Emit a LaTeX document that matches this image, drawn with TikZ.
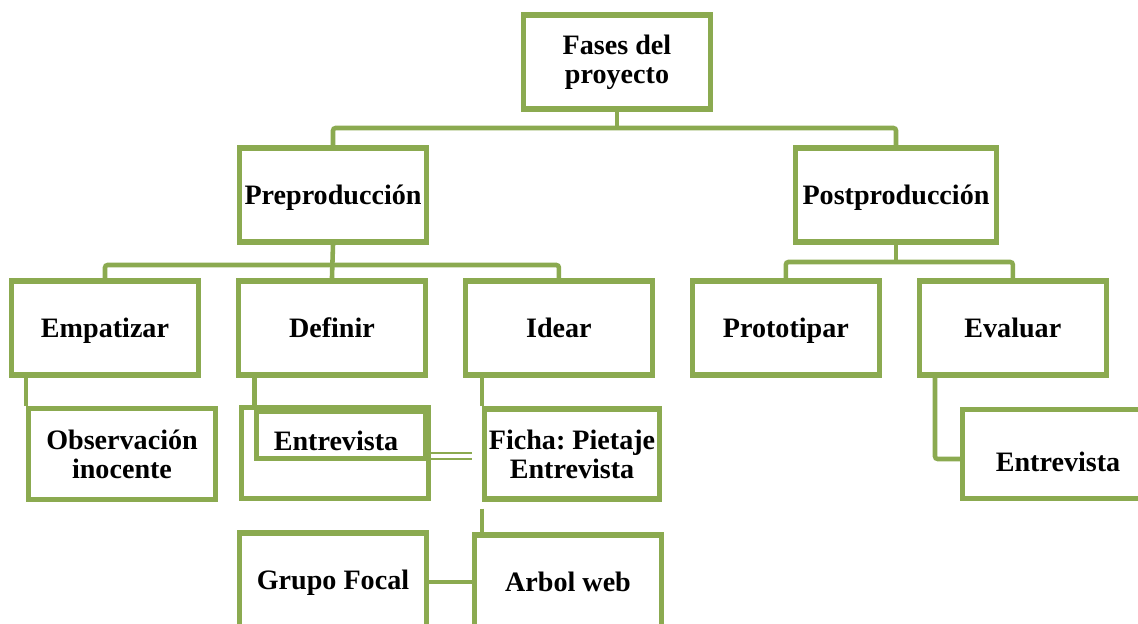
\documentclass[tikz,border=0pt]{standalone}
\usepackage{fontspec}
\setmainfont{Liberation Serif}
\usetikzlibrary{positioning}

\definecolor{fasegreen}{RGB}{139,170,80}
\frenchspacing

\begin{document}
\begin{tikzpicture}[x=0.02cm, y=-0.02cm, node distance=4.54cm,
    align=center, font=\fontsize{16}{16.5}\selectfont\bfseries]

    \tikzset{
      twobox/.style = {shape=rectangle, draw=fasegreen, line width=3pt,
                       minimum width=3.74cm, minimum height=1.88cm, inner sep=1pt},
      txt/.style    = {text height=12.5pt, text depth=2pt},
      box/.style    = {twobox, txt},
      link/.style   = {draw=fasegreen, line width=2.6pt, rounded corners=1.5pt},
    }

    \useasboundingbox (0,0) rectangle (1138,624);
    \clip (0,0) rectangle (1138,624);

    \node[twobox] (F) at (617,62) {Fases del\\proyecto};
    \node[box] (Pre) at (333,195) {Preproducción};
    \node[box, minimum width=4.02cm] (Post) at (896,195) {Postproducción};

    \node[box                ] (Emp) at (105,328) {Empatizar};
    \node[box, right of=Emp  ] (Def)   {Definir};
    \node[box, right of=Def  ] (Idear) {Idear};
    \node[box, right of=Idear] (Proto) {Prototipar};
    \node[box, right of=Proto] (Eval)  {Evaluar};

    \node[twobox, minimum height=1.82cm] (Obs) at (122,454) {Observación\\inocente};
    \node[box, minimum height=1.82cm] (Ent) at (335,453) {};
    \node[box, line width=2.6pt, minimum width=3.38cm, minimum height=0.94cm] (EntIn) at (341,435) {};
    \node[txt] (EntTxt) at (336,441) {Entrevista};
    \node[twobox, minimum width=3.5cm, minimum height=1.8cm] (Ficha) at (572,454) {Ficha: Pietaje\\Entrevista};
    \node[box] (Grupo) at (333,580) {Grupo Focal};
    \node[box] (Arbol) at (568,582) {Arbol web};
    \node[box, minimum height=1.78cm] (EntB) at (1056,454) {};
    \node[txt] (EntBTxt) at (1058,462) {Entrevista};

    \coordinate (bar1) at (0,128);
    \coordinate (bar2) at (0,265);
    \coordinate (bar3) at (0,262);

    % erste Ebene
    \draw[link] (F.south) -- (F.south |- bar1);
    \draw[link] (Pre.north) -- (Pre.north |- bar1) -- (Post.north |- bar1) -- (Post.north);

    % zweite Ebene
    \draw[link] (Pre.south) -- (Def.north);
    \draw[link] (Emp.north) -- (Emp.north |- bar2) -- (Idear.north |- bar2) -- (Idear.north);
    \draw[link] (Post.south) -- (Post.south |- bar3);
    \draw[link] (Proto.north) -- (Proto.north |- bar3) -- (Eval.north |- bar3) -- (Eval.north);

    % dritte Ebene
    \draw[link] (Obs.north west |- Emp.south) -- (Obs.north west);
    \draw[link] (EntIn.north west |- Def.south) -- (EntIn.north west);
    \coordinate (dblEnd) at (472,456);
    \draw[link, line width=1.5pt, double=white, double distance=1.8pt] (Ent.east |- dblEnd) -- (dblEnd);
    \draw[link] (Ficha.north west |- Idear.south) -- (Ficha.north west);
    \draw[link] (Ficha.south west) ++(0,7) -- (Ficha.south west |- Arbol.north);
    \draw[link] (Grupo.east |- Arbol.west) -- (Arbol.west);
    \coordinate (evalTurn) at (935,459);
    \draw[link] (evalTurn |- Eval.south) -- (evalTurn) -- (evalTurn -| EntB.west);

  \end{tikzpicture}
\end{document}
